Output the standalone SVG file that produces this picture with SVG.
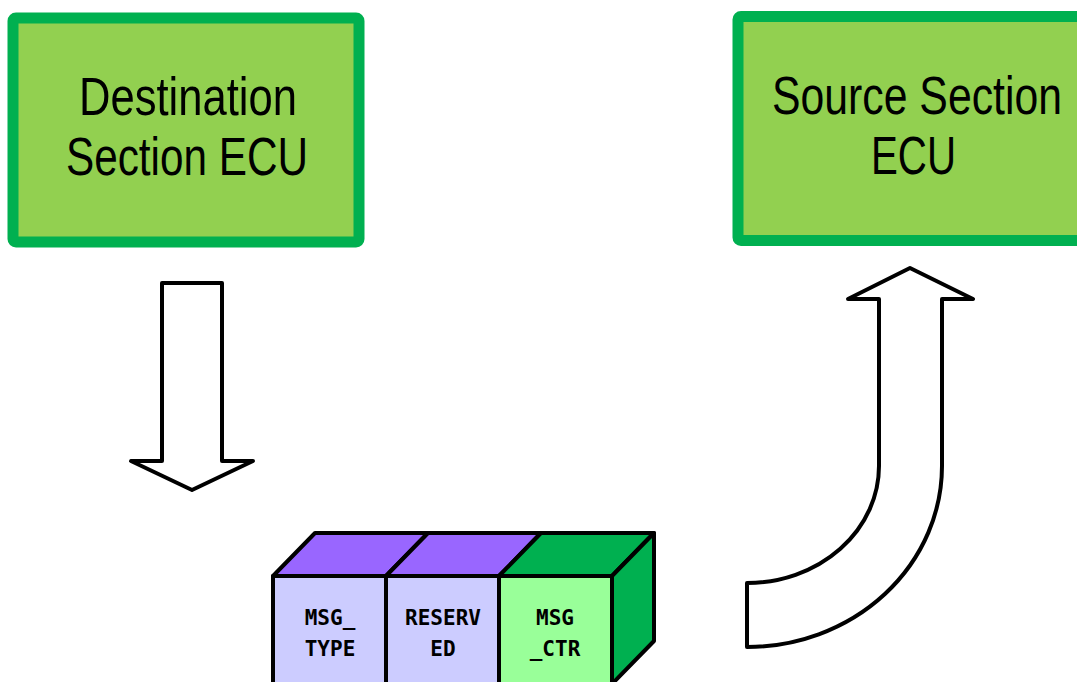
<svg xmlns="http://www.w3.org/2000/svg" width="1077" height="682" viewBox="0 0 1077 682">
<style>
.ecu{fill:#92D050;stroke:#00B050;stroke-width:11}
.lbl{font-family:"Liberation Sans",Arial,sans-serif;font-size:53px;fill:#000}
.arr{fill:#fff;stroke:#000;stroke-width:4;stroke-linejoin:round}
.face{stroke:#000;stroke-width:4;stroke-linejoin:round}
.ct{font-family:"DejaVu Sans Mono","Liberation Mono",monospace;font-weight:bold;font-size:21px;fill:#000;text-anchor:middle}
</style>
<rect width="1077" height="682" fill="#fff"/>
<g id="dest">
<rect class="ecu" x="13" y="18" width="346" height="224" rx="3"/>
<text class="lbl" x="188" y="115" text-anchor="middle" textLength="218" lengthAdjust="spacingAndGlyphs">Destination</text>
<text class="lbl" x="187" y="175" text-anchor="middle" textLength="242" lengthAdjust="spacingAndGlyphs">Section ECU</text>
</g>
<g id="src">
<rect class="ecu" x="738" y="16.5" width="350" height="224" rx="3"/>
<text class="lbl" x="917" y="113.5" text-anchor="middle" textLength="290" lengthAdjust="spacingAndGlyphs">Source Section</text>
<text class="lbl" x="913.5" y="174" text-anchor="middle" textLength="85" lengthAdjust="spacingAndGlyphs">ECU</text>
</g>
<g id="connectors">
<path class="arr" d="M162 283 L222 283 L222 461 L253 461 L192 490 L131 461 L162 461 Z"/>
<path class="arr" d="M747 583 A132 117 0 0 0 879 466 L879 299 L848 299 L910 268 L973 299 L942 299 L942 466 A195 181 0 0 1 747 647 Z"/>
</g>
<g id="packet">
<polygon class="face" points="273,576 315,533 428,533 386,576" fill="#9966FF"/>
<polygon class="face" points="386,576 428,533 541,533 499,576" fill="#9966FF"/>
<polygon class="face" points="499,576 541,533 654,533 612,576" fill="#00B050"/>
<polygon class="face" points="612,576 654,533 654,641 612,684" fill="#00B050"/>
<rect class="face" x="273" y="576" width="113" height="120" fill="#CCCCFF"/>
<rect class="face" x="386" y="576" width="113" height="120" fill="#CCCCFF"/>
<rect class="face" x="499" y="576" width="113" height="120" fill="#99FF99"/>
</g>
<g id="f-msgtype">
<text class="ct" x="330" y="625">MSG_</text>
<text class="ct" x="330" y="656">TYPE</text>
</g>
<g id="f-reserved">
<text class="ct" x="443" y="625">RESERV</text>
<text class="ct" x="443" y="656">ED</text>
</g>
<g id="f-msgctr">
<text class="ct" x="555" y="625">MSG</text>
<text class="ct" x="555" y="656">_CTR</text>
</g>
</svg>
